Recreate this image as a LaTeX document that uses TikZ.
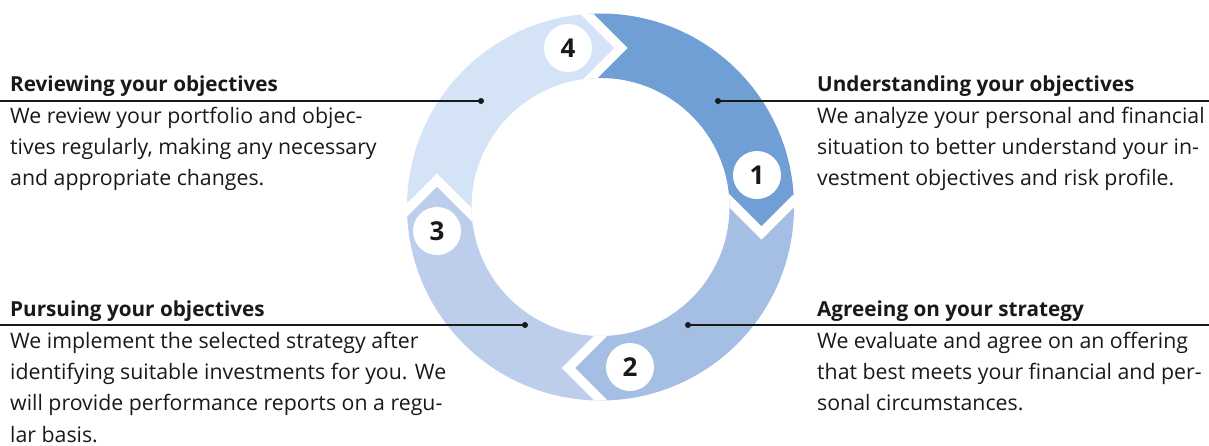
\documentclass[tikz,border=0pt]{standalone}
\usepackage{fontspec}
\setmainfont{Open Sans}
\definecolor{segA}{RGB}{111,159,212}
\definecolor{segB}{RGB}{165,190,227}
\definecolor{segC}{RGB}{188,206,236}
\definecolor{segD}{RGB}{212,227,245}
\definecolor{ink}{RGB}{25,25,25}
\begin{document}
\begin{tikzpicture}[x=1pt,y=-1pt,
  numc/.style={circle,fill=white,minimum size=48pt,inner sep=0pt,text=ink,font=\bfseries\fontsize{26}{26}\selectfont},
  dotn/.style={circle,fill=ink,minimum size=6pt,inner sep=0pt},
  conn/.style={draw=ink,line width=1.3pt},
  gap/.style={draw=white,line width=9.5pt,miter limit=10},
  head/.style={anchor=base west,inner sep=0pt,text=ink,font=\bfseries\fontsize{20.7}{31}\selectfont},
  body/.style={anchor=base west,inner sep=0pt,text=ink,font=\fontsize{21.3}{31.2}\selectfont}]
\useasboundingbox (0,0) rectangle (1209,445);
% ring
\begin{scope}[even odd rule]
\clip (600.5,207) circle (193.5) (600.5,207) circle (129);
\fill[segA] (561,-12) -- (621,48) -- (561,108) -- (701.5,173) -- (761.5,233) -- (821.5,173) -- (821.5,-12) -- cycle;
\fill[segB] (821.5,173) -- (761.5,233) -- (701.5,173) -- (628.5,308) -- (568.5,368) -- (628.5,428) -- (821.5,428) -- cycle;
\fill[segC] (628.5,428) -- (568.5,368) -- (628.5,308) -- (497,240) -- (437,180) -- (377,240) -- (377,428) -- cycle;
\fill[segD] (377,240) -- (437,180) -- (497,240) -- (561,108) -- (621,48) -- (561,-12) -- (377,-12) -- cycle;
\draw[gap] (561,-12) -- (621,48) -- (561,108);
\draw[gap] (821.5,173) -- (761.5,233) -- (701.5,173);
\draw[gap] (628.5,308) -- (568.5,368) -- (628.5,428);
\draw[gap] (377,240) -- (437,180) -- (497,240);
\end{scope}
% numbers
\node[numc] (n1) at (757,175) {1};
\node[numc] (n2) at (630,367) {2};
\node[numc] (n3) at (437,231) {3};
\node[numc] (n4) at (568,48) {4};
% connectors
\node[dotn] (d1) at (718,101) {};
\node[dotn] (d2) at (688,325) {};
\node[dotn] (d3) at (525,325) {};
\node[dotn] (d4) at (481,101) {};
\coordinate (e1) at (1209,101);
\coordinate (e2) at (1209,325);
\coordinate (e3) at (0,325);
\coordinate (e4) at (0,101);
\draw[conn] (d1.center) -- (e1);
\draw[conn] (d2.center) -- (e2);
\draw[conn] (d3.center) -- (e3);
\draw[conn] (d4.center) -- (e4);
% texts
\node[head] (h1) at (817,91.5) {Understanding your objectives};
\node[body] (b1) at (817,123) {\vtop{\hbox{We analyze your personal and financial}\hbox{situation to better understand your in-}\hbox{vestment objectives and risk profile.}}};
\node[head] (h2) at (817,316.5) {Agreeing on your strategy};
\node[body] (b2) at (817,348.5) {\vtop{\hbox{We evaluate and agree on an offering}\hbox{that best meets your financial and per-}\hbox{sonal circumstances.}}};
\node[head] (h3) at (10,316.5) {Pursuing your objectives};
\node[body] (b3) at (10,348.5) {\vtop{\hbox{We implement the selected strategy after}\hbox{identifying suitable investments for you. We}\hbox{will provide performance reports on a regu-}\hbox{lar basis.}}};
\node[head] (h4) at (10,91.5) {Reviewing your objectives};
\node[body] (b4) at (10,123) {\vtop{\hbox{We review your portfolio and objec-}\hbox{tives regularly, making any necessary}\hbox{and appropriate changes.}}};
\end{tikzpicture}
\end{document}
